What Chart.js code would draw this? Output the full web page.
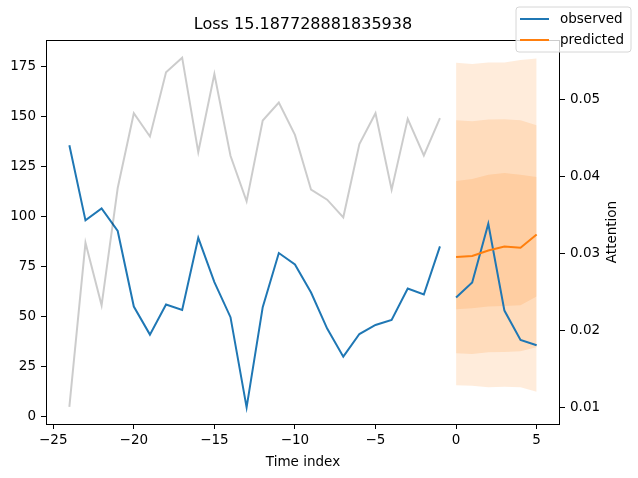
<!DOCTYPE html>
<html>
<head>
<meta charset="utf-8">
<script src="https://cdn.jsdelivr.net/npm/chart.js@4/dist/chart.umd.min.js"></script>
<style>
  html, body { margin: 0; padding: 0; background: #fff; }
  #wrap { width: 638px; height: 478px; }
</style>
</head>
<body>
<div id="wrap"><canvas id="c" width="638" height="478"></canvas></div>
<script>
// --- data ---
const titleText = 'Loss 15.187728881835938';

// observed history (encoder) and observed future (decoder) are drawn as two separate pieces
const timeHistory = [-24, -23, -22, -21, -20, -19, -18, -17, -16, -15, -14, -13,
                     -12, -11, -10, -9, -8, -7, -6, -5, -4, -3, -2, -1];
const observedHistory = [135.5, 98, 104, 92.7, 55, 41, 56, 53.3, 89.3, 67.2, 49.7, 4.7,
                         54.7, 81.7, 76, 62, 44, 30, 41.3, 45.8, 48.3, 64, 61, 85];

const timePredicted = [0, 1, 2, 3, 4, 5];
const observedFuture = [59.5, 67, 96.3, 53, 38.3, 35.7];
const predicted  = [79.7, 80.2, 83, 85, 84.3, 91];
const outerUpper = [176.7, 176, 176.8, 176.8, 178, 178.8];
const outerLower = [15.7, 15.5, 14.7, 15, 14.7, 12.5];
const midUpper   = [148, 147.5, 148.3, 148.5, 148, 145.5];
const midLower   = [31.7, 31.3, 32.2, 32.3, 32.7, 34.7];
const innerUpper = [117.7, 118.7, 120.8, 121.7, 120.8, 119.7];
const innerLower = [53.7, 54.2, 55, 55.3, 55.7, 60];

const attention = [0.01004, 0.03139, 0.02325, 0.03853, 0.04827, 0.04524, 0.05360, 0.05550,
                   0.04321, 0.05338, 0.04273, 0.03679, 0.04731, 0.04965, 0.04545, 0.03831,
                   0.03701, 0.03471, 0.04424, 0.04827, 0.03831, 0.04753, 0.04277, 0.04762];

const xTicks = [-25, -20, -15, -10, -5, 0, 5];
const yTicks = [0, 25, 50, 75, 100, 125, 150, 175];
const y2Ticks = [0.01, 0.02, 0.03, 0.04, 0.05];

const BLUE = '#1f77b4';
const ORANGE = '#ff7f0e';
const BAND = 'rgba(255,127,14,0.15)';
const FONT = 'DejaVu Sans';

function pts(xs, ys) { return xs.map((x, i) => ({ x: x, y: ys[i] })); }

function band(label, ys, fill) {
    return {
        label: label, data: pts(timePredicted, ys), yAxisID: 'y',
        borderWidth: 0, pointRadius: 0, backgroundColor: BAND,
        fill: fill, order: 10
    };
}

function line(label, xs, ys, color, axis, order) {
    return {
        label: label, data: pts(xs, ys), yAxisID: axis,
        borderColor: color, borderWidth: 2, pointRadius: 0, fill: false, order: order
    };
}

// frame, title, axis labels, legend
const extras = {
    id: 'extras',
    afterDraw(chart) {
        const ctx = chart.ctx;
        const a = chart.chartArea;
        ctx.save();
        ctx.strokeStyle = '#000';
        ctx.lineWidth = 1;
        ctx.strokeRect(Math.round(a.left) + 0.5, Math.round(a.top) + 0.5,
                       Math.round(a.right - a.left) - 1, Math.round(a.bottom - a.top));

        const cx = (a.left + a.right) / 2;
        ctx.fillStyle = '#000';
        ctx.textAlign = 'center';
        ctx.textBaseline = 'middle';
        ctx.font = '16px "' + FONT + '"';
        ctx.fillText(titleText, cx, 25);

        ctx.font = '13.5px "' + FONT + '"';
        ctx.fillText('Time index', cx, 462);

        ctx.save();
        ctx.translate(612, (a.top + a.bottom) / 2);
        ctx.rotate(-Math.PI / 2);
        ctx.fillText('Attention', 0, 0);
        ctx.restore();

        // legend box
        const bx = 516, by = 7, bw = 115, bh = 45, r = 3;
        ctx.beginPath();
        ctx.moveTo(bx + r, by);
        ctx.arcTo(bx + bw, by, bx + bw, by + bh, r);
        ctx.arcTo(bx + bw, by + bh, bx, by + bh, r);
        ctx.arcTo(bx, by + bh, bx, by, r);
        ctx.arcTo(bx, by, bx + bw, by, r);
        ctx.closePath();
        ctx.fillStyle = 'rgba(255,255,255,0.8)';
        ctx.fill();
        ctx.strokeStyle = '#d6d6d6';
        ctx.stroke();

        const items = [['observed', BLUE, 19], ['predicted', ORANGE, 40]];
        ctx.lineWidth = 2;
        ctx.textAlign = 'left';
        items.forEach(([label, color, y]) => {
            ctx.strokeStyle = color;
            ctx.beginPath();
            ctx.moveTo(520, y);
            ctx.lineTo(549, y);
            ctx.stroke();
            ctx.fillStyle = '#000';
            ctx.fillText(label, 560, y);
        });
        ctx.restore();
    }
};

const tickStyle = { color: '#000', font: { family: FONT, size: 13.5 } };
const gridStyle = { drawOnChartArea: false, drawTicks: true, tickLength: 5, color: '#000' };

new Chart(document.getElementById('c'), {
    type: 'line',
    data: {
        datasets: [
            band('q outer hi', outerUpper, '+1'),
            band('q outer lo', outerLower, false),
            band('q mid hi', midUpper, '+1'),
            band('q mid lo', midLower, false),
            band('q inner hi', innerUpper, '+1'),
            band('q inner lo', innerLower, false),
            line('observed', timeHistory, observedHistory, BLUE, 'y', 4),
            line('observed future', timePredicted, observedFuture, BLUE, 'y', 3),
            line('predicted', timePredicted, predicted, ORANGE, 'y', 2),
            line('attention', timeHistory, attention, 'rgba(0,0,0,0.2)', 'y2', 1)
        ]
    },
    options: {
        responsive: false,
        animation: false,
        layout: { padding: { top: 40, left: 0, right: 0, bottom: 0 } },
        plugins: { legend: { display: false }, tooltip: { enabled: false }, title: { display: false } },
        scales: {
            x: {
                type: 'linear', min: -25.45, max: 6.45,
                grid: gridStyle, border: { display: false },
                ticks: Object.assign({}, tickStyle, {
                    padding: 3, autoSkip: false, maxRotation: 0,
                    callback: v => String(v).replace('-', '\u2212')
                }),
                afterBuildTicks: s => { s.ticks = xTicks.map(v => ({ value: v })); },
                afterFit: s => { s.height = 54; }
            },
            y: {
                type: 'linear', position: 'left', min: -3.6, max: 188,
                grid: gridStyle, border: { display: false },
                ticks: Object.assign({}, tickStyle, { padding: 5, autoSkip: false }),
                afterBuildTicks: s => { s.ticks = yTicks.map(v => ({ value: v })); },
                afterFit: s => { s.width = 46; }
            },
            y2: {
                type: 'linear', position: 'right', min: 0.0078, max: 0.0578,
                grid: gridStyle, border: { display: false },
                ticks: Object.assign({}, tickStyle, {
                    padding: 5, autoSkip: false,
                    callback: v => v.toFixed(2)
                }),
                afterBuildTicks: s => { s.ticks = y2Ticks.map(v => ({ value: v })); },
                afterFit: s => { s.width = 78; }
            }
        }
    },
    plugins: [extras]
});
</script>
</body>
</html>
